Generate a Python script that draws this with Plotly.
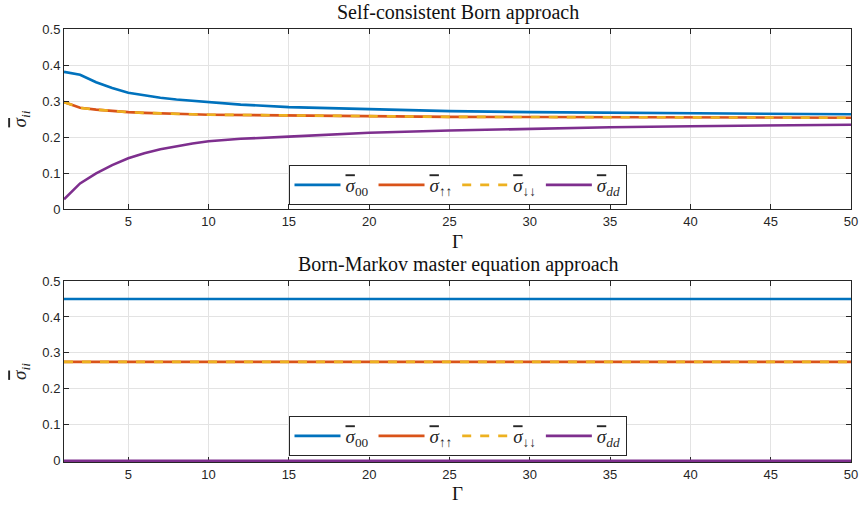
import plotly.graph_objects as go

# Occupations vs coupling Gamma, self-consistent Born approach
gamma_scb = [1, 2, 3, 4, 5, 6, 7, 8, 9, 10, 12, 15, 20, 25, 30, 35, 40, 45, 50]
scb_00 = [0.381, 0.373, 0.352, 0.336, 0.323, 0.315, 0.309, 0.304, 0.300, 0.296,
          0.290, 0.283, 0.277, 0.272, 0.269, 0.267, 0.265, 0.264, 0.263]
scb_up = [0.297, 0.281, 0.276, 0.272, 0.269, 0.267, 0.265, 0.264, 0.263, 0.262,
          0.261, 0.259, 0.257, 0.256, 0.2555, 0.255, 0.2545, 0.254, 0.2535]
scb_dn = list(scb_up)
scb_dd = [0.027, 0.071, 0.099, 0.122, 0.141, 0.155, 0.166, 0.175, 0.182, 0.188,
          0.195, 0.201, 0.212, 0.218, 0.223, 0.227, 0.230, 0.232, 0.234]

# Born-Markov master equation: Gamma-independent occupations
gamma_bm = list(range(1, 51))
bm_00 = [0.45] * len(gamma_bm)
bm_up = [0.275] * len(gamma_bm)
bm_dn = [0.275] * len(gamma_bm)
bm_dd = [0.0] * len(gamma_bm)

SIG = '<span style="text-decoration:overline"><i>σ</i></span>'
names = [SIG + "<sub>00</sub>", SIG + "<sub>↑↑</sub>", SIG + "<sub>↓↓</sub>", SIG + "<sub><i>dd</i></sub>"]
colors = ["#0072BD", "#D95319", "#EDB120", "#7E2F8E"]
dashes = ["solid", "solid", "dash", "solid"]

fig = go.Figure()

panels = [
    (gamma_scb, [scb_00, scb_up, scb_dn, scb_dd], "x", "y", "legend"),
    (gamma_bm, [bm_00, bm_up, bm_dn, bm_dd], "x2", "y2", "legend2"),
]
for gx, series, xa, ya, leg in panels:
    for name, vals, col, dash in zip(names, series, colors, dashes):
        fig.add_trace(go.Scatter(
            x=gx, y=vals, mode="lines", name=name,
            line=dict(color=col, width=2.6, dash=dash),
            xaxis=xa, yaxis=ya, legend=leg,
        ))

W, H = 868, 509
ml, mr, mt, mb = 64, 10, 29, 47
ph = H - mt - mb


def py(ypx):
    return (H - mb - ypx) / ph


axis_common = dict(
    showline=True, linecolor="#262626", linewidth=1, mirror="allticks",
    ticks="inside", ticklen=5, tickcolor="#262626",
    showgrid=True, gridcolor="#e3e3e3", gridwidth=1, zeroline=False,
    tickfont=dict(family="Liberation Sans, Arial, sans-serif", size=13, color="#262626"),
)

xaxis = dict(axis_common, range=[1, 50], tickvals=[5, 10, 15, 20, 25, 30, 35, 40, 45, 50])
ytitle = dict(text=SIG + "<sub><i>ii</i></sub>", standoff=10,
              font=dict(family="Liberation Serif, serif", size=19, color="#262626"))
yaxis = dict(axis_common, dtick=0.1, tick0=0, title=ytitle)

fig.update_layout(
    width=W, height=H,
    margin=dict(l=ml, r=mr, t=mt, b=mb),
    paper_bgcolor="white", plot_bgcolor="white",
    xaxis=dict(xaxis, domain=[0, 1], anchor="y"),
    yaxis=dict(yaxis, range=[0, 0.5], domain=[py(209), 1], anchor="x"),
    xaxis2=dict(xaxis, domain=[0, 1], anchor="y2", layer="below traces"),
    # small negative margin so the zero-valued trace is not half clipped
    yaxis2=dict(yaxis, range=[-0.0035, 0.5], domain=[0, py(281)], anchor="x2",
                layer="below traces"),
    showlegend=True,
)

legend_common = dict(
    orientation="h", xanchor="center", x=0.5, yanchor="top",
    bgcolor="white", bordercolor="#262626", borderwidth=1,
    font=dict(family="Liberation Serif, serif", size=19, color="#262626"),
    itemwidth=46, tracegroupgap=0,
)
fig.update_layout(
    legend=dict(legend_common, y=py(165)),
    legend2=dict(legend_common, y=py(416)),
)

serif = dict(family="Liberation Serif, serif", color="#111111")
annotations = [
    dict(text="Self-consistent Born approach", x=0.5, y=py(12), font=dict(serif, size=20)),
    dict(text="Born-Markov master equation approach", x=0.5, y=py(264), font=dict(serif, size=20)),
    dict(text="Γ", x=0.5, y=py(241), font=dict(serif, size=19)),
    dict(text="Γ", x=0.5, y=py(493), font=dict(serif, size=19)),
]
for a in annotations:
    fig.add_annotation(xref="paper", yref="paper", showarrow=False,
                       xanchor="center", yanchor="middle", **a)

fig.write_html("out.html")
